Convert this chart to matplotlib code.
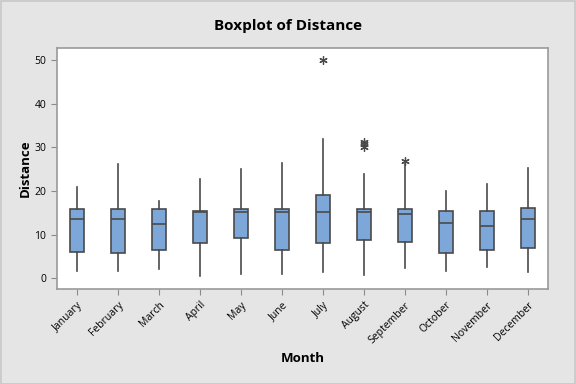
import matplotlib
matplotlib.use("Agg")
import matplotlib.pyplot as plt
from matplotlib.patches import Rectangle

plt.rcParams['font.family'] = ['Open Sans', 'DejaVu Sans']

months = ["January", "February", "March", "April", "May", "June", "July",
          "August", "September", "October", "November", "December"]
whislo = [1.8, 1.8, 2.1, 0.5, 1.1, 1.1, 1.5, 0.8, 2.4, 1.8, 2.6, 1.5]
q1 = [6.1, 5.9, 6.6, 8.2, 9.3, 6.6, 8.0, 8.9, 8.4, 5.9, 6.4, 7.0]
med = [13.5, 13.7, 12.5, 15.1, 15.1, 15.1, 15.3, 15.1, 14.8, 12.8, 12.1, 13.7]
q3 = [15.8, 15.8, 15.8, 15.5, 16.0, 15.8, 19.0, 15.8, 15.8, 15.5, 15.5, 16.2]
whishi = [20.9, 26.1, 17.7, 22.7, 25.0, 26.4, 32.0, 24.0, 26.3, 20.1, 21.7, 25.2]
outliers = [[], [], [], [], [], [], [50.1], [31.3, 30.7, 30.1], [27.0], [], [], []]

stats = []
for i, m in enumerate(months):
    stats.append(dict(label=m, whislo=whislo[i], q1=q1[i], med=med[i], q3=q3[i],
                      whishi=whishi[i], fliers=outliers[i]))

edge = "#4a4a4a"
fig = plt.figure(figsize=(5.76, 3.84), dpi=100, facecolor="#e5e5e5")
fig.patches.append(Rectangle((0.001, 0.001), 0.997, 0.997, transform=fig.transFigure,
                             fill=False, edgecolor="#c8c8c8", linewidth=1.2))
ax = fig.add_axes([56.7 / 576, 1 - 289.3 / 384, (548.3 - 56.7) / 576, (289.3 - 47.5) / 384])
ax.set_facecolor("white")

ax.bxp(stats, positions=range(1, 13), widths=0.33, patch_artist=True, showcaps=False,
       boxprops=dict(facecolor="#7da7d9", edgecolor=edge, linewidth=1.2),
       medianprops=dict(color=edge, linewidth=1.2),
       whiskerprops=dict(color=edge, linewidth=1.2),
       flierprops=dict(marker=(6, 2, 0), markersize=6, markeredgecolor=edge,
                       markerfacecolor=edge, markeredgewidth=0.9, linestyle="none"))

ax.set_xlim(0.5, 12.5)
ax.set_ylim(-2.5, 52.9)
ax.set_yticks([0, 10, 20, 30, 40, 50])
ax.set_xticks(range(1, 13))
ax.set_xticklabels(months, rotation=45, ha="right", rotation_mode="anchor", fontsize=7.5)
ax.tick_params(axis="y", labelsize=7.5)
ax.tick_params(color="#8a8a8a", length=4)
for s in ax.spines.values():
    s.set_color("#9a9a9a")
    s.set_linewidth(1.2)

fig.text(0.5, 1 - 26 / 384, "Boxplot of Distance", fontsize=11, fontweight="bold",
         ha="center", va="center")
fig.text(25 / 576, 0.5 * ((1 - 289.3 / 384) + (1 - 47.5 / 384)), "Distance", fontsize=9.5,
         fontweight="bold", rotation=90, ha="center", va="center")
fig.text(0.5 * (56.7 + 548.3) / 576, 1 - 359 / 384, "Month", fontsize=9.5,
         fontweight="bold", ha="center", va="center")

fig.savefig("out.png", dpi=100, facecolor=fig.get_facecolor())
